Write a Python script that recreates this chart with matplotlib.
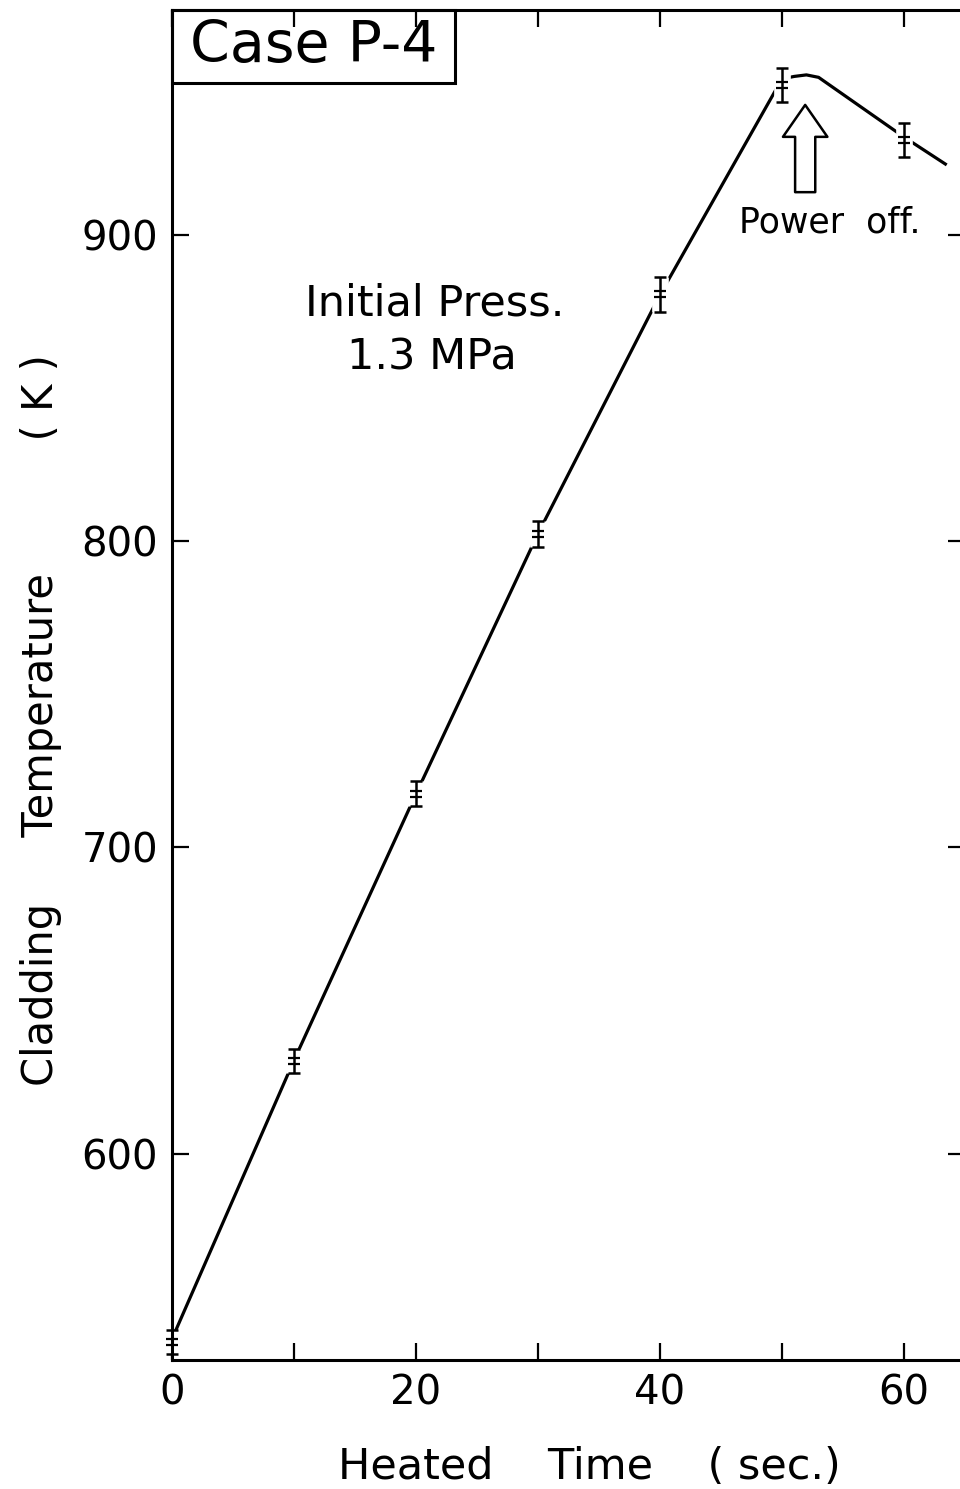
import matplotlib
matplotlib.use('Agg')
import matplotlib.pyplot as plt
import matplotlib.patheffects as pe
from matplotlib.path import Path
from matplotlib.patches import Rectangle

# measured points (heated time, cladding temperature, half error)
meas_t = [0, 10, 20, 30, 40, 50, 60]
meas_T = [538.6, 630.4, 717.6, 802.3, 880.7, 949.0, 931.0]
meas_err = [3.9, 3.9, 4.0, 4.2, 5.7, 5.7, 5.5]

# drawn curve
line_t = [0, 10, 20, 30, 40, 50, 51, 52, 53, 60, 63.5]
line_T = [539.5, 630.5, 717.5, 802.5, 880.5, 951.0, 951.8, 952.3, 951.5, 932.0, 922.9]

x_ticks = [0, 10, 20, 30, 40, 50, 60]
x_labels = ['0', '', '20', '', '40', '', '60']
y_ticks = [600, 700, 800, 900]

plt.rcParams['font.family'] = ['DejaVu Sans']

fig = plt.figure(figsize=(9.6, 14.89), dpi=100)
ax = fig.add_axes([0.1792, 0.0866, 0.826, 0.9067])

#curve
ax.plot(line_t, line_T, color='black', lw=2.3, zorder=2, solid_capstyle='butt')

#error bars with a white halo so the curve breaks around them
tick_marker = Path([(-1, 0.5), (1, 0.5), (-1, -0.5), (1, -0.5)],
                   [Path.MOVETO, Path.LINETO, Path.MOVETO, Path.LINETO])
eb = ax.errorbar(meas_t, meas_T, yerr=meas_err, fmt='none', ecolor='black',
                 elinewidth=1.8, capsize=4.5, capthick=1.8, zorder=2.2)
for c in eb.lines[2]:
    c.set_clip_on(False)
    c.set_path_effects([pe.Stroke(linewidth=12, foreground='white'), pe.Normal()])
for c in eb.lines[1]:
    c.set_clip_on(False)
ax.plot(meas_t, meas_T, linestyle='none', marker=tick_marker, markersize=8,
        markeredgewidth=1.6, color='black', zorder=2.3, clip_on=False)

#axes limits / ticks
ax.set_xlim(0, 65)
ax.set_ylim(532.6, 973.5)
ax.set_xticks(x_ticks)
ax.set_xticklabels(x_labels)
ax.set_yticks(y_ticks)
ax.tick_params(direction='in', length=12, width=1.6, labelsize=29,
               top=True, right=True, pad=10)
for s in ax.spines.values():
    s.set_linewidth(2.2)

#labels
ax.set_xlabel('Heated    Time    ( sec.)', fontsize=31)
ax.xaxis.set_label_coords(0.526, -0.064)
ax.set_ylabel('Cladding     Temperature          ( K )', fontsize=30)
ax.yaxis.set_label_coords(-0.139, 0.474)

#case box
ax.add_patch(Rectangle((0, 1 - 0.054), 0.357, 0.054, transform=ax.transAxes,
                       fill=False, lw=2.2, ec='black', clip_on=False))
ax.text(0.1785, 1 - 0.027, 'Case P-4', transform=ax.transAxes, fontsize=41,
        ha='center', va='center')

#annotations
ax.text(21.5, 877.5, 'Initial Press.', fontsize=31, ha='center', va='center')
ax.text(21.3, 860.1, '1.3 MPa', fontsize=31, ha='center', va='center')
ax.annotate('', xy=(51.9, 942.5), xytext=(51.9, 914.0),
            arrowprops=dict(arrowstyle='simple,head_length=23,head_width=32,tail_width=14.5',
                            mutation_scale=1, fc='white', ec='black', lw=1.8,
                            shrinkA=0, shrinkB=0))
ax.text(53.9, 904.2, 'Power  off.', fontsize=25, ha='center', va='center')

plt.savefig('out.png', dpi=100)
